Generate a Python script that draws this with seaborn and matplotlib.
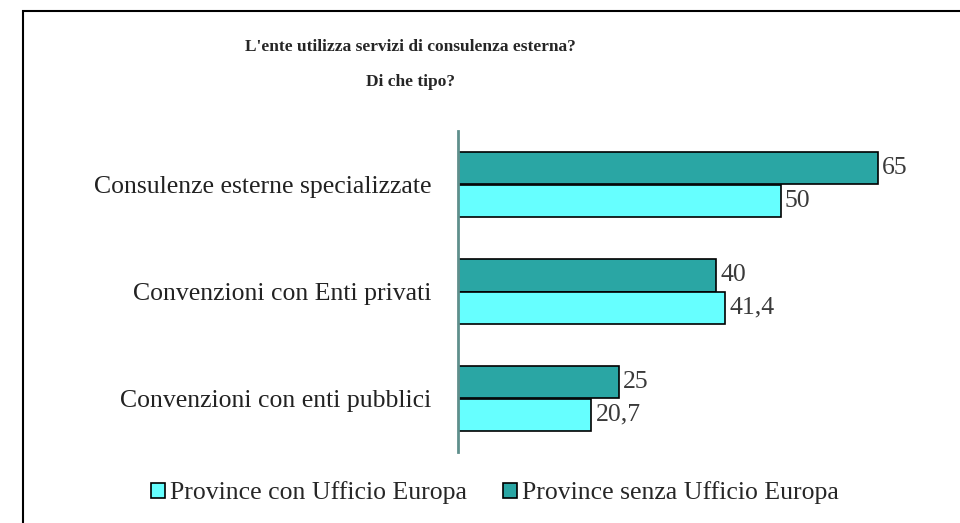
import pandas as pd
import matplotlib.pyplot as plt
import seaborn as sns
from matplotlib.patches import Rectangle, Patch

# Data
categories = ["Consulenze esterne specializzate",
              "Convenzioni con Enti privati",
              "Convenzioni con enti pubblici"]
con_ufficio = [50, 41.4, 20.7]
senza_ufficio = [65, 40, 25]
series = ["Province senza Ufficio Europa", "Province con Ufficio Europa"]
colors = {"Province senza Ufficio Europa": "#2aa6a4",
          "Province con Ufficio Europa": "#66ffff"}

df = pd.DataFrame({
    "categoria": categories * 2,
    "valore": senza_ufficio + con_ufficio,
    "serie": [series[0]] * 3 + [series[1]] * 3,
})

sns.set_theme(style="white")
plt.rcParams['font.family'] = ['Liberation Serif', 'DejaVu Serif']

fig = plt.figure(figsize=(9.6, 5.23), dpi=100)
ax = fig.add_axes([457.5 / 960, 1 - 452 / 523, 485 / 960, 321 / 523])

sns.barplot(data=df, x="valore", y="categoria", hue="serie", hue_order=series,
            palette=colors, saturation=1, orient="h", width=0.6, edgecolor="black",
            linewidth=1.2, ax=ax, legend=False)

for cont in ax.containers:
    labels = [f"{v:g}".replace(".", ",") for v in cont.datavalues]
    ax.bar_label(cont, labels=labels, padding=3, fontsize=18.5, color="#3a3a3a")

ax.set_xlim(0, 75)
ax.set_ylim(2.5, -0.5)
ax.set_xlabel("")
ax.set_ylabel("")
ax.set_xticks([])
for side in ["top", "right", "bottom"]:
    ax.spines[side].set_visible(False)
ax.spines["left"].set_color("#5f8f8c")
ax.spines["left"].set_linewidth(2)
ax.tick_params(axis="y", which="major", length=0, pad=19, labelsize=18.5,
               labelcolor="#222222")
ax.set_yticks([1.5, 2.5], minor=True)
ax.tick_params(axis="y", which="minor", length=5, width=1.5, color="black")

fig.text(410 / 960, 1 - 47 / 523, "L'ente utilizza servizi di consulenza esterna?",
         ha="center", va="center", fontsize=12.5, fontweight="bold")
fig.text(410 / 960, 1 - 82 / 523, "Di che tipo?",
         ha="center", va="center", fontsize=12.5, fontweight="bold")

handles = [Patch(facecolor=colors[s], edgecolor="black", linewidth=1.2) for s in series[::-1]]
fig.legend(handles, series[::-1], loc="center", bbox_to_anchor=(495 / 960, 1 - 493 / 523),
           ncol=2, frameon=False, fontsize=18.5, handlelength=0.55, handleheight=0.55,
           handletextpad=0.2, columnspacing=1.4)

# outer frame
fig.patches.append(Rectangle((23 / 960, -0.1), 1.1, 1 - 11 / 523 + 0.1, fill=False,
                             edgecolor="black", linewidth=1.5,
                             transform=fig.transFigure, figure=fig))

fig.savefig("out.png", dpi=100)
